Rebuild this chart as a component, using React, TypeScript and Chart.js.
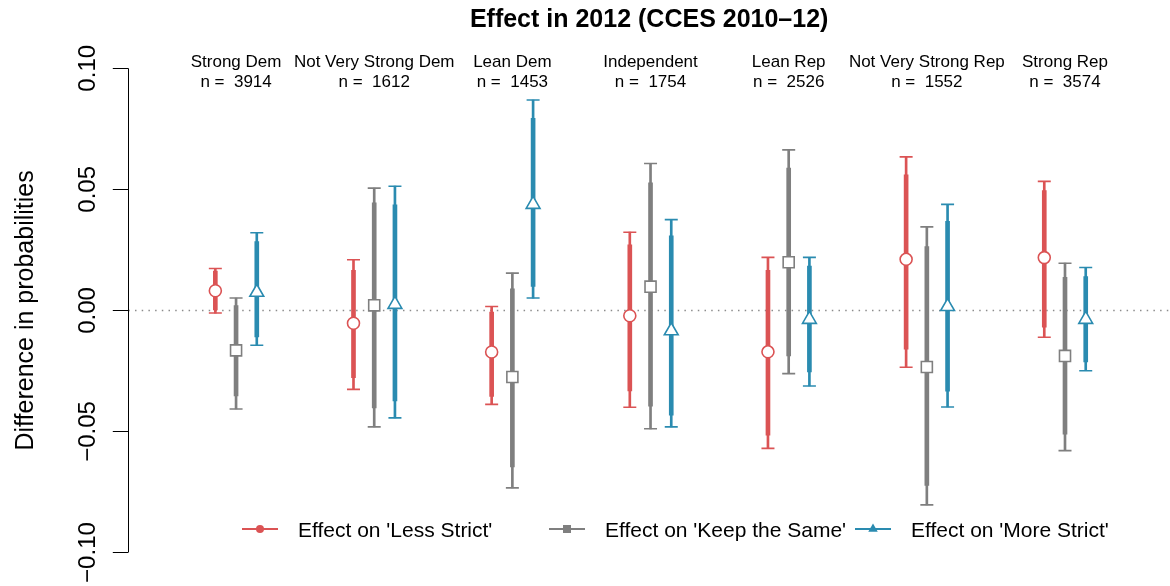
import React, { useEffect, useRef } from 'react';
import { Chart, registerables } from 'chart.js';

Chart.register(...registerables);

const FONT = "'Liberation Sans', Arial, Helvetica, sans-serif";

const groups = [
  'Strong Dem',
  'Not Very Strong Dem',
  'Lean Dem',
  'Independent',
  'Lean Rep',
  'Not Very Strong Rep',
  'Strong Rep',
];
const groupN = [3914, 1612, 1453, 1754, 2526, 1552, 3574];

const seriesNames = ["Effect on 'Less Strict'", "Effect on 'Keep the Same'", "Effect on 'More Strict'"];
const seriesColors = ['#DB5354', '#7F7F7F', '#2A8BB0'];

// Effect on 'Less Strict'
const lessEst = [0.0081, -0.0053, -0.0172, -0.0022, -0.0171, 0.0211, 0.0218];
const lessLo95 = [-0.0011, -0.0326, -0.0388, -0.04, -0.057, -0.0235, -0.0111];
const lessHi95 = [0.0173, 0.0209, 0.0016, 0.0323, 0.0219, 0.0634, 0.0533];
const lessLo90 = [0.0, -0.0278, -0.0355, -0.0333, -0.0515, -0.016, -0.0069];
const lessHi90 = [0.0162, 0.0165, -0.0007, 0.0271, 0.0165, 0.056, 0.0495];

// Effect on 'Keep the Same'
const sameEst = [-0.0165, 0.0021, -0.0275, 0.0098, 0.0199, -0.0234, -0.0188];
const sameLo95 = [-0.0407, -0.0481, -0.0733, -0.0489, -0.0261, -0.0803, -0.0579];
const sameHi95 = [0.0051, 0.0505, 0.0154, 0.0607, 0.0663, 0.0345, 0.0195];
const sameLo90 = [-0.0353, -0.0403, -0.0646, -0.0396, -0.0188, -0.0723, -0.0511];
const sameHi90 = [0.002, 0.0444, 0.0089, 0.0527, 0.0588, 0.0264, 0.0137];

// Effect on 'More Strict'
const moreEst = [0.0075, 0.0025, 0.0438, -0.0084, -0.0037, 0.0016, -0.0037];
const moreLo95 = [-0.0144, -0.0444, 0.0051, -0.0481, -0.0312, -0.0399, -0.0249];
const moreHi95 = [0.0321, 0.0513, 0.0869, 0.0375, 0.0219, 0.0438, 0.0177];
const moreLo90 = [-0.011, -0.0374, 0.0099, -0.0433, -0.0254, -0.0334, -0.0213];
const moreHi90 = [0.0284, 0.0436, 0.0793, 0.0308, 0.0183, 0.0368, 0.014];

const yTicks = [-0.1, -0.05, 0, 0.05, 0.1];

const series = [
  { est: lessEst, lo95: lessLo95, hi95: lessHi95, lo90: lessLo90, hi90: lessHi90 },
  { est: sameEst, lo95: sameLo95, hi95: sameHi95, lo90: sameLo90, hi90: sameHi90 },
  { est: moreEst, lo95: moreLo95, hi95: moreHi95, lo90: moreLo90, hi90: moreHi90 },
];
const seriesOffsets = [-0.15, 0, 0.15];
const pointStyles = ['circle', 'rect', 'triangle'];
const pointRadii = [6, 7.8, 8];

const X_MIN = 0.22;
const X_MAX = 7.76;

function fmtTick(v: number): string {
  if (Math.abs(v) < 1e-9) return '0.00';
  return (v < 0 ? '\u2212' : '') + Math.abs(v).toFixed(2);
}

const annotatePlugin = {
  id: 'annotate',
  afterDraw(chart: any) {
    const ctx = chart.ctx as CanvasRenderingContext2D;
    const xs = chart.scales.x;
    const ys = chart.scales.y;
    const ca = chart.chartArea;
    ctx.save();

    // y axis line (only over the tick range)
    ctx.strokeStyle = '#000';
    ctx.lineWidth = 1;
    ctx.beginPath();
    const ax = Math.round(ys.right) + 0.5;
    ctx.moveTo(ax, ys.getPixelForValue(yTicks[yTicks.length - 1]));
    ctx.lineTo(ax, ys.getPixelForValue(yTicks[0]));
    ctx.stroke();

    // tick labels (rotated)
    ctx.fillStyle = '#000';
    ctx.font = `24px ${FONT}`;
    ctx.textAlign = 'center';
    ctx.textBaseline = 'alphabetic';
    for (const v of yTicks) {
      ctx.save();
      ctx.translate(95, ys.getPixelForValue(v));
      ctx.rotate(-Math.PI / 2);
      ctx.fillText(fmtTick(v), 0, 0);
      ctx.restore();
    }

    // y title
    ctx.save();
    ctx.font = `25px ${FONT}`;
    ctx.translate(33, (ca.top + ca.bottom) / 2);
    ctx.rotate(-Math.PI / 2);
    ctx.fillText('Difference in probabilities', 0, 0);
    ctx.restore();

    // group labels
    ctx.font = `17px ${FONT}`;
    ctx.textAlign = 'center';
    groups.forEach((g, i) => {
      const px = xs.getPixelForValue(i + 1);
      ctx.fillText(g, px, 66.5);
      ctx.fillText(`n =  ${groupN[i]}`, px, 87);
    });

    // legend
    const legendX = [260, 567, 873];
    const ly = 529;
    ctx.font = `21px ${FONT}`;
    ctx.textAlign = 'left';
    seriesNames.forEach((name, s) => {
      const mx = legendX[s];
      const c = seriesColors[s];
      ctx.strokeStyle = c;
      ctx.fillStyle = c;
      ctx.lineWidth = 2;
      ctx.beginPath();
      ctx.moveTo(mx - 18, ly);
      ctx.lineTo(mx + 18, ly);
      ctx.stroke();
      ctx.beginPath();
      if (s === 0) {
        ctx.arc(mx, ly, 4, 0, Math.PI * 2);
      } else if (s === 1) {
        ctx.rect(mx - 4, ly - 4, 8, 8);
      } else {
        const r = 5.5;
        ctx.moveTo(mx, ly - r);
        ctx.lineTo(mx + r * 0.866, ly + r / 2);
        ctx.lineTo(mx - r * 0.866, ly + r / 2);
        ctx.closePath();
      }
      ctx.fill();
      ctx.fillStyle = '#000';
      ctx.fillText(name, mx + 38, ly + 7.5);
    });

    ctx.restore();
  },
};

export default function App() {
  const canvasRef = useRef<HTMLCanvasElement | null>(null);

  useEffect(() => {
    const canvas = canvasRef.current;
    if (!canvas) return;

    const datasets: any[] = [];
    datasets.push({
      type: 'line',
      data: [
        { x: X_MIN, y: 0 },
        { x: X_MAX, y: 0 },
      ],
      borderColor: '#8c8c8c',
      borderWidth: 1.5,
      borderDash: [1.5, 5.2],
      pointRadius: 0,
      order: 10,
    });

    series.forEach((s, k) => {
      const c = seriesColors[k];
      const off = seriesOffsets[k];
      datasets.push({
        type: 'bar',
        data: groups.map((_, i) => ({ x: i + 1 + off, y: [s.lo95[i], s.hi95[i]] })),
        backgroundColor: c,
        borderWidth: 0,
        barThickness: 2,
        grouped: false,
        order: 6,
      });
      datasets.push({
        type: 'bar',
        data: groups.map((_, i) => ({ x: i + 1 + off, y: [s.lo90[i], s.hi90[i]] })),
        backgroundColor: c,
        borderWidth: 0,
        barThickness: 4,
        grouped: false,
        order: 5,
      });
      const caps: { x: number; y: number }[] = [];
      groups.forEach((_, i) => {
        caps.push({ x: i + 1 + off, y: s.lo95[i] });
        caps.push({ x: i + 1 + off, y: s.hi95[i] });
      });
      datasets.push({
        type: 'scatter',
        data: caps,
        pointStyle: 'line',
        pointRadius: 6.5,
        pointBorderColor: c,
        pointBorderWidth: 1.6,
        order: 3,
      });
      datasets.push({
        type: 'scatter',
        data: groups.map((_, i) => ({ x: i + 1 + off, y: s.est[i] })),
        pointStyle: pointStyles[k],
        pointRadius: pointRadii[k],
        pointBackgroundColor: '#ffffff',
        pointBorderColor: c,
        pointBorderWidth: 1.6,
        order: 1,
      });
    });

    const chart = new Chart(canvas, {
      type: 'bar',
      data: { datasets },
      options: {
        responsive: false,
        animation: false,
        events: [],
        layout: { autoPadding: false, padding: { left: 0, right: 0, top: 0, bottom: 14.1 } },
        scales: {
          x: {
            type: 'linear',
            min: X_MIN,
            max: X_MAX,
            display: false,
            offset: false,
            grid: { offset: false },
          },
          y: {
            type: 'linear',
            min: -0.108,
            max: 0.108,
            beginAtZero: false,
            afterBuildTicks: (scale: any) => {
              scale.ticks = yTicks.map((v) => ({ value: v }));
            },
            afterFit: (scale: any) => {
              scale.width = 128.3;
            },
            border: { display: false },
            grid: {
              display: true,
              drawOnChartArea: false,
              drawTicks: true,
              tickLength: 15.5,
              color: '#000000',
              lineWidth: 1,
            },
            ticks: { display: false },
            title: { display: false },
          },
        },
        plugins: {
          legend: { display: false },
          tooltip: { enabled: false },
          title: {
            display: true,
            text: 'Effect in 2012 (CCES 2010\u201312)',
            color: '#000',
            font: { family: FONT, size: 25, weight: 'bold' },
            padding: { top: 5.5, bottom: 13.4 },
            fullSize: false,
          },
        },
      } as any,
      plugins: [annotatePlugin],
    });

    return () => {
      chart.destroy();
    };
  }, []);

  return (
    <div style={{ position: 'fixed', left: 0, top: 0, width: 1170, height: 586, background: '#fff' }}>
      <canvas ref={canvasRef} width={1170} height={586} style={{ display: 'block', width: 1170, height: 586 }} />
    </div>
  );
}
